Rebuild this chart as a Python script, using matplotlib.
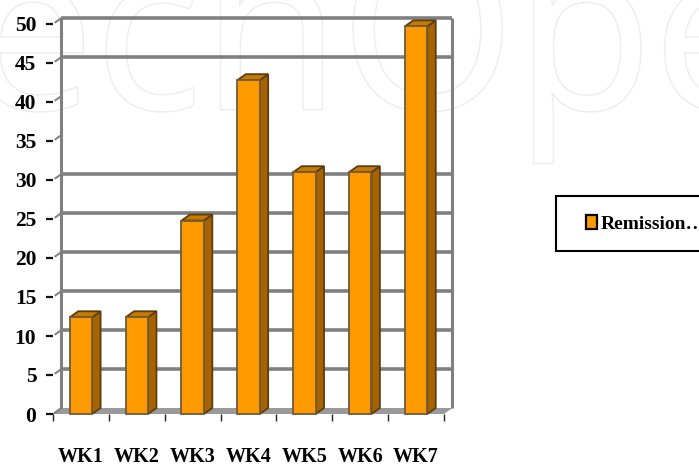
import matplotlib
matplotlib.use("Agg")
import matplotlib.pyplot as plt
import matplotlib.patheffects as pe
from matplotlib.patches import Polygon, Rectangle

categories = ["WK1", "WK2", "WK3", "WK4", "WK5", "WK6", "WK7"]
remission = [12.4, 12.4, 24.8, 42.8, 31, 31, 49.7]
y_ticks = [0, 5, 10, 15, 20, 25, 30, 35, 40, 45, 50]
full_gridlines = [5, 10, 15, 20, 25, 30, 45, 50]
series_name = "Remission…"

W, H = 699, 468
plt.rcParams["font.family"] = ["Liberation Serif", "DejaVu Serif"]
plt.rcParams["font.weight"] = "bold"
fig = plt.figure(figsize=(W / 100, H / 100), dpi=100, facecolor="white")

# watermark
wm = fig.text(-32 / W, 1 - 109 / H, "echOpe", fontsize=162, family="Open Sans",
              color="white", ha="left", va="baseline", zorder=-5, fontweight="normal")
wm.set_path_effects([pe.Stroke(linewidth=2.2, foreground="#eeeeee"), pe.Normal()])

L, R, B, T = 53, 444, 414, 24
ax = fig.add_axes([L / W, 1 - B / H, (R - L) / W, (B - T) / H])
ax.patch.set_alpha(0)
ax.set_xlim(-0.5, 6.5)
ax.set_ylim(0, 50)
for s in ax.spines.values():
    s.set_visible(False)

# 3-D depth of the chart box, in data units
dx = 8.5 / ((R - L) / 7)
dy = 6 / ((B - T) / 50)
grey = "#808080"
x0, x1 = -0.5, 6.5
k = dict(clip_on=False, solid_capstyle="butt")

# floor
ax.add_patch(Polygon([(x0, 0), (x0 + dx, dy), (x1 + dx, dy), (x1, 0)], closed=True,
                     facecolor="#9a9a9a", edgecolor="none", clip_on=False, zorder=1))
# walls and gridlines
ax.plot([x0 + dx, x0 + dx], [dy, 50 + dy], color=grey, lw=2.2, zorder=1, **k)
ax.plot([x1 + dx, x1 + dx], [dy, 50 + dy], color=grey, lw=2.2, zorder=1, **k)
ax.plot([x0, x0 + dx], [0, dy], color=grey, lw=1.2, zorder=1, **k)
for v in full_gridlines:
    ax.plot([x0 + dx, x1 + dx], [v + dy, v + dy], color=grey, lw=2.6, zorder=1, **k)
for v in y_ticks:
    ax.plot([x0 + 0.03, x0 + dx], [v + 0.2 * dy, v + dy], color=grey, lw=1.4, zorder=1, **k)

# bars
w = 0.40
edge = "#5c3d10"
for i, v in enumerate(remission):
    l, r = i - w / 2, i + w / 2
    ax.add_patch(Polygon([(r, 0), (r + dx, dy), (r + dx, v + dy), (r, v)], closed=True,
                         facecolor="#A66300", edgecolor=edge, lw=1.3, clip_on=False, zorder=3))
    ax.add_patch(Polygon([(l, v), (l + dx, v + dy), (r + dx, v + dy), (r, v)], closed=True,
                         facecolor="#C67A00", edgecolor=edge, lw=1.3, clip_on=False, zorder=3))
bars = ax.bar(range(len(categories)), remission, width=w, color="#FF9900",
              edgecolor="#6e5a3c", linewidth=1.3, zorder=4, clip_on=False)

ax.set_yticks(y_ticks)
ax.set_yticklabels([str(v) for v in y_ticks], fontsize=15.5, fontweight="bold")
ax.set_xticks([i - 0.5 for i in range(8)])
ax.set_xticklabels([])
ax.set_xticks(range(7), minor=True)
ax.set_xticklabels(categories, minor=True, fontsize=14.5, fontweight="bold")
ax.tick_params(axis="y", length=5, width=1.6, color="#111111", pad=7)
ax.tick_params(axis="x", which="major", length=5, width=1, color="#222222", direction="out")
ax.tick_params(axis="x", which="minor", length=0, pad=24)

# legend
fig.add_artist(Rectangle((556 / W, 1 - 251 / H), 150 / W, 55 / H, transform=fig.transFigure,
                         facecolor="white", edgecolor="black", lw=1.5, clip_on=True))
handle = Rectangle((0, 0), 1, 1, facecolor="#FF9900", edgecolor="black", lw=1.6)
leg = fig.legend([handle], [series_name], loc="center left",
                 bbox_to_anchor=(586 / W, 1 - 224 / H), frameon=False, fontsize=14,
                 handlelength=0.55, handleheight=0.7, handletextpad=0.2,
                 borderpad=0, borderaxespad=0)

fig.savefig("out.png", dpi=100)
